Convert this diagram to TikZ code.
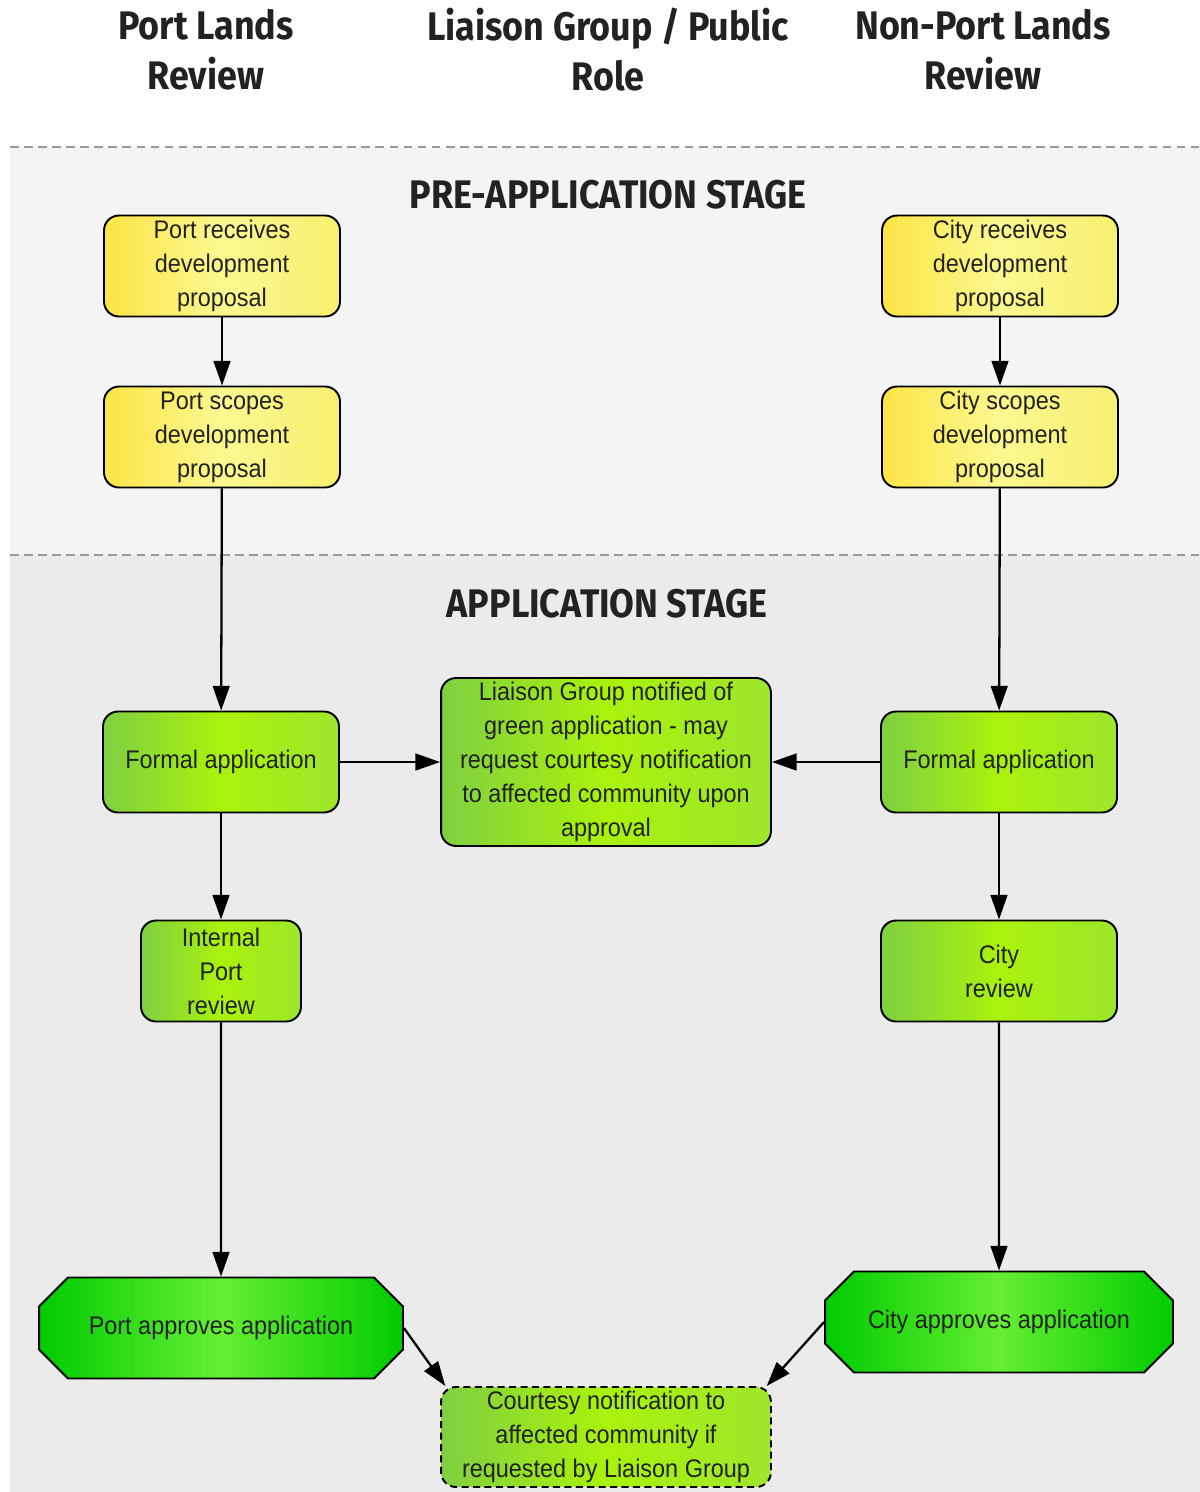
\documentclass[tikz,border=0pt]{standalone}
\usepackage{fontspec}
\setmainfont[FakeStretch=0.92]{Liberation Sans}
\newfontfamily\headfont[FakeStretch=0.9]{Fira Sans}
\usetikzlibrary{shapes.misc,arrows.meta}

\definecolor{preband}{HTML}{F4F4F4}
\definecolor{appband}{HTML}{EBEBEB}
\definecolor{textgray}{HTML}{222222}
\definecolor{yelleft}{HTML}{FDE445}
\definecolor{yelmid}{HTML}{FAF890}
\definecolor{yelright}{HTML}{F7EF70}
\definecolor{grnleft}{HTML}{7FCF42}
\definecolor{grnmid}{HTML}{A9F20C}
\definecolor{grnright}{HTML}{9DE62C}
\definecolor{okedge}{HTML}{00CC00}
\definecolor{okmid}{HTML}{66EE33}

\begin{document}
\begin{tikzpicture}[x=0.02cm,y=-0.02cm,
  box/.style={draw=black, line width=1.1pt, rounded corners=0.3cm, align=center,
    text=textgray, font=\fontsize{14.5}{19.3}\selectfont, inner sep=0pt,
    minimum width=4.72cm, minimum height=2.02cm},
  yellowbox/.style={box, left color=yelleft, right color=yelright, middle color=yelmid},
  greenbox/.style={box, left color=grnleft, right color=grnright, middle color=grnmid},
  okbox/.style={box, rounded corners=0pt, chamfered rectangle,
    chamfered rectangle xsep=0.34cm, chamfered rectangle ysep=0.34cm,
    left color=okedge, right color=okedge, middle color=okmid},
  heading/.style={align=center, text=textgray, font=\headfont\bfseries\fontsize{22.7}{28.4}\selectfont},
  arrow/.style={-{Triangle[length=14pt,width=9.5pt]}, line width=1.3pt},
  stageline/.style={draw=gray!80, line width=0.6pt, dash pattern=on 5pt off 3pt}
]
  \useasboundingbox (0,0) rectangle (1200,1492);

  % stage bands
  \fill[preband] (10,147) rectangle (1200,555);
  \fill[appband] (10,555) rectangle (1200,1492);
  \draw[stageline] (10,147) -- (1200,147);
  \draw[stageline] (10,555) -- (1200,555);

  % column headings
  \node[heading] (portcol) at (206,50) {Port Lands\\Review};
  \node[heading] (liaisoncol) at (608,50) {Liaison Group / Public\\Role};
  \node[heading] (citycol) at (983,50) {Non-Port Lands\\Review};
  \node[heading] (prestage) at (608,195) {PRE-APPLICATION STAGE};
  \node[heading] (appstage) at (607,604) {APPLICATION STAGE};

  % pre-application
  \node[yellowbox] (portrecv) at (222,266) {Port receives\\development\\proposal};
  \node[yellowbox] (portscope) at (222,437) {Port scopes\\development\\proposal};
  \node[yellowbox] (cityrecv) at (1000,266) {City receives\\development\\proposal};
  \node[yellowbox] (cityscope) at (1000,437) {City scopes\\development\\proposal};

  % application
  \node[greenbox] (portform) at (221,762) {Formal application};
  \node[greenbox] (cityform) at (999,762) {Formal application};
  \node[greenbox, minimum width=6.6cm, minimum height=3.36cm] (liaison) at (606,762)
    {Liaison Group notified of\\green application - may\\request courtesy notification\\to affected community upon\\approval};
  \node[greenbox, minimum width=3.2cm] (portrev) at (221,971) {Internal\\Port\\review};
  \node[greenbox] (cityrev) at (999,971) {City\\review};
  \node[okbox, minimum width=7.28cm] (portok) at (221,1328) {Port approves application};
  \node[okbox, minimum width=6.96cm] (cityok) at (999,1322) {City approves application};
  \node[greenbox, dashed, dash pattern=on 4pt off 2.5pt, minimum width=6.6cm, minimum height=2cm] (courtesy) at (606,1437)
    {Courtesy notification to\\affected community if\\requested by Liaison Group};

  % connectors
  \draw[arrow] (portrecv) -- (portscope);
  \draw[arrow] (cityrecv) -- (cityscope);
  \draw[arrow] (portscope) -- (portform);
  \draw[arrow] (cityscope) -- (cityform);
  \draw[arrow] (portform) -- (liaison);
  \draw[arrow] (cityform) -- (liaison);
  \draw[arrow] (portform) -- (portrev);
  \draw[arrow] (cityform) -- (cityrev);
  \draw[arrow] (portrev) -- (portok);
  \draw[arrow] (cityrev) -- (cityok);
  \draw[arrow] (portok.east) -- ([xshift=3pt]courtesy.north west);
  \draw[arrow] (cityok.west) -- ([xshift=-3pt]courtesy.north east);
\end{tikzpicture}
\end{document}
